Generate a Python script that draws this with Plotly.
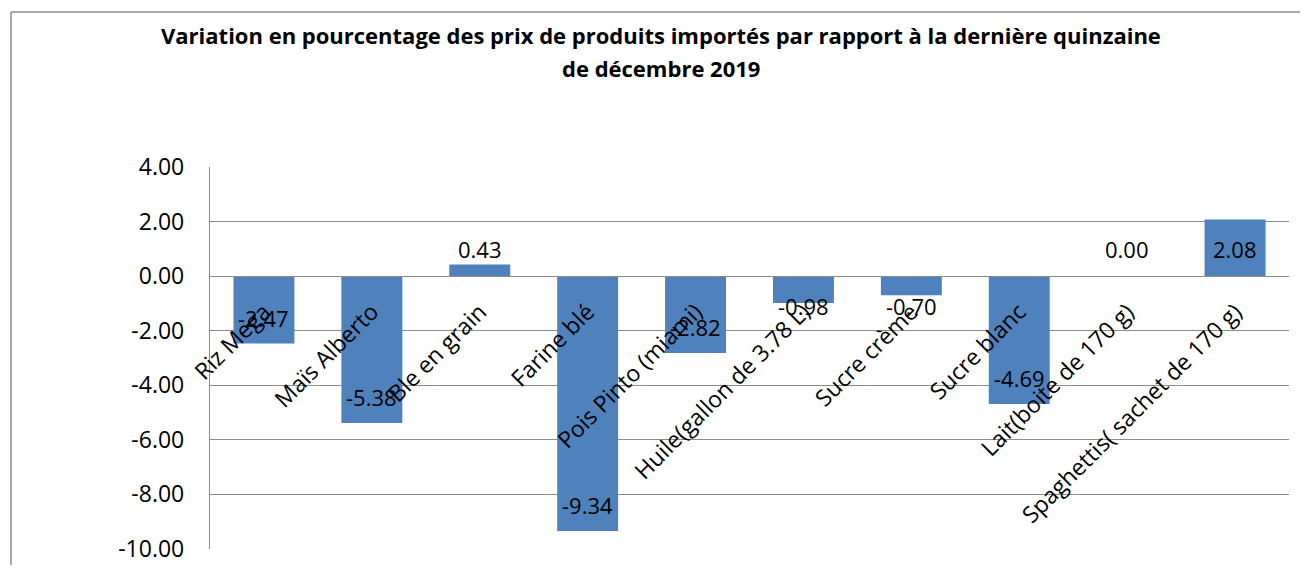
import plotly.graph_objects as go

categories = [
    "Riz Mega",
    "Maïs Alberto",
    "Ble en grain",
    "Farine blé",
    "Pois Pinto (miami)",
    "Huile(gallon de 3.78 L)",
    "Sucre crème",
    "Sucre blanc",
    "Lait(boite de 170 g)",
    "Spaghettis( sachet de 170 g)",
]
values = [-2.47, -5.38, 0.43, -9.34, -2.82, -0.98, -0.70, -4.69, 0.00, 2.08]
y_ticks = [4, 2, 0, -2, -4, -6, -8, -10]

title_lines = [
    "Variation en pourcentage des prix de produits importés par rapport à la dernière quinzaine",
    "de décembre 2019",
]

# page body has an 8px margin on every side; keep the figure inside the viewport
OFF = 8
W, H = 1308 - 2 * OFF, 573 - 2 * OFF
ML, MT = 210 - OFF, 167 - OFF
MR = (1308 - OFF) - 1289
MB = (573 - OFF) - 549
PW, PH = W - ML - MR, H - MT - MB
YMIN, YMAX = -10, 4

BAR = "#4F81BD"
GRID = "#8C8C8C"
FONT = "Open Sans"

fig = go.Figure()
fig.add_trace(go.Bar(x=categories, y=values, marker=dict(color=BAR, line=dict(width=0)),
                     hoverinfo="x+y"))

annotations = []
for c, v in zip(categories, values):
    if v < -1.5:
        y, ys = v, 26
    elif v < 0:
        y, ys = 0, -30
    else:
        y, ys = 0, 27
    annotations.append(dict(x=c, y=y, xref="x", yref="y", yshift=ys, text=f"{v:.2f}",
                            showarrow=False, font=dict(family=FONT, size=22, color="black"),
                            xanchor="center", yanchor="middle"))

def py(p):  # page pixel y -> paper
    return 1 + (MT + OFF - p) / PH

def px_(p):  # page pixel x -> paper
    return (p - OFF - ML) / PW

for line, ypix in zip(title_lines, [35, 68]):
    annotations.append(dict(x=px_(661), y=py(ypix), xref="paper", yref="paper", text=f"<b>{line}</b>",
                            showarrow=False, font=dict(family=FONT, size=22, color="black"),
                            xanchor="center", yanchor="middle"))

frame = dict(color="#8C8C8C", width=1.5)
fig.update_layout(
    width=W, height=H,
    margin=dict(l=ML, r=MR, t=MT, b=MB, pad=0),
    paper_bgcolor="white", plot_bgcolor="white",
    showlegend=False,
    bargap=0.435,
    annotations=annotations,
    shapes=[
        dict(type="line", xref="paper", yref="paper", x0=px_(11), x1=px_(1320),
             y0=py(12), y1=py(12), line=frame, layer="below"),
        dict(type="line", xref="paper", yref="paper", x0=px_(11), x1=px_(11),
             y0=py(12), y1=py(590), line=frame, layer="below"),
    ],
)
fig.update_yaxes(range=[YMIN, YMAX], tickvals=y_ticks, ticktext=[f"{t:.2f}" for t in y_ticks],
                 showgrid=True, gridcolor=GRID, gridwidth=1.3, zeroline=False,
                 showline=True, linecolor=GRID, linewidth=1.3,
                 ticks="", ticklabelstandoff=20,
                 tickfont=dict(family=FONT, size=23, color="black"), automargin=False)
fig.update_xaxes(type="category", anchor="free", position=(0 - YMIN) / (YMAX - YMIN),
                 showline=True, linecolor=GRID, linewidth=1.3, showgrid=False, zeroline=False,
                 tickangle=-45, ticks="", ticklabelstandoff=12,
                 tickfont=dict(family=FONT, size=23, color="black"),
                 automargin=False, range=[-0.5, len(categories) - 0.5])

fig.write_html("out.html")
